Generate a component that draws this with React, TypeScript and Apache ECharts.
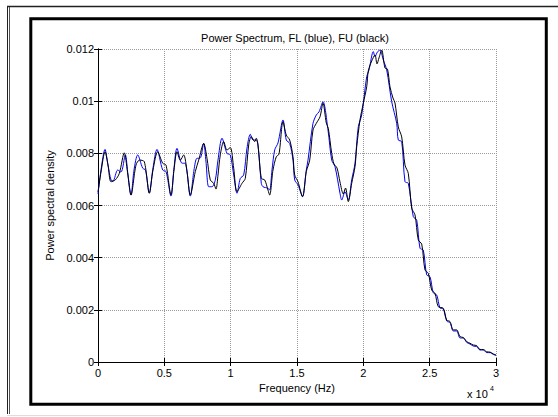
import React, { useEffect, useRef } from "react";
import * as echarts from "echarts";

// Frequency (Hz) and power spectral density, FU (black)
const freqFU = [0, 226, 528, 754, 980, 1304, 1606, 1982, 2224, 2487, 2864, 3128, 3490, 3867, 4146, 4500, 4877, 5126, 5502, 5729, 5955, 6204, 6460, 6709, 6957, 7334, 7590, 7967, 8216, 8465, 8721, 8894, 9045, 9218, 9475, 9724, 9972, 10229, 10477, 10854, 11103, 11359, 11555, 11812, 11932, 12060, 12309, 12565, 12814, 12942, 13191, 13440, 13643, 13945, 14193, 14450, 14699, 14827, 15075, 15415, 15701, 15958, 16206, 16455, 16734, 16960, 17209, 17359, 17616, 17789, 18015, 18241, 18490, 18656, 18867, 19123, 19372, 19500, 19749, 19998, 20254, 20375, 20631, 20880, 21030, 21181, 21384, 21633, 21822, 22010, 22236, 22387, 22636, 22892, 23141, 23390, 23646, 23895, 24143, 24400, 24648, 24897, 25153, 25402, 25651, 26028, 26284, 26533, 26782, 27038, 27287, 27535, 27792, 28040, 28289, 28545, 28794, 29043, 29299, 29548, 29797, 30000];
const psdFU = [0.00652, 0.00728, 0.00806, 0.00755, 0.00691, 0.00698, 0.00723, 0.00802, 0.00728, 0.0064, 0.00755, 0.00774, 0.00768, 0.00647, 0.00736, 0.00806, 0.00762, 0.00755, 0.0064, 0.00736, 0.00806, 0.00774, 0.00794, 0.0073, 0.0064, 0.0073, 0.00774, 0.00838, 0.00781, 0.00698, 0.00685, 0.00663, 0.00717, 0.00794, 0.00845, 0.00813, 0.00822, 0.00743, 0.00653, 0.00685, 0.00704, 0.00832, 0.00864, 0.00845, 0.00858, 0.00832, 0.00704, 0.00698, 0.00659, 0.0064, 0.00736, 0.00787, 0.00797, 0.00921, 0.0087, 0.00851, 0.00787, 0.00717, 0.00691, 0.00634, 0.0073, 0.00774, 0.00889, 0.00915, 0.0094, 0.00992, 0.00916, 0.00896, 0.008, 0.00759, 0.00744, 0.0069, 0.00644, 0.00667, 0.00615, 0.00685, 0.00749, 0.00825, 0.00928, 0.00992, 0.01055, 0.01116, 0.01154, 0.01177, 0.01143, 0.01166, 0.01196, 0.01127, 0.01123, 0.01055, 0.01012, 0.00993, 0.00901, 0.00863, 0.00755, 0.00723, 0.0059, 0.00564, 0.00468, 0.00452, 0.00353, 0.0034, 0.00276, 0.00263, 0.00212, 0.00206, 0.00161, 0.00155, 0.00123, 0.00123, 0.00097, 0.00094, 0.00078, 0.00072, 0.00065, 0.00063, 0.00048, 0.00048, 0.00039, 0.00038, 0.00031, 0.00027];

// Frequency (Hz) and power spectral density, FL (blue)
const freqFL = [0, 226, 528, 754, 980, 1131, 1485, 1734, 2058, 2261, 2487, 2714, 2992, 3369, 3580, 3867, 4146, 4447, 4877, 5126, 5502, 5729, 5955, 6332, 6558, 6957, 7236, 7462, 7688, 7967, 8141, 8344, 8593, 8842, 9045, 9347, 9724, 9972, 10229, 10477, 10726, 10982, 11231, 11480, 11683, 11932, 12098, 12309, 12437, 12814, 12942, 13116, 13319, 13568, 13945, 14193, 14450, 14699, 14827, 15075, 15415, 15701, 15829, 16206, 16455, 16658, 16960, 17337, 17616, 17865, 18241, 18369, 18618, 18867, 19123, 19372, 19621, 19877, 20254, 20428, 20752, 20880, 21068, 21256, 21505, 21761, 22138, 22515, 22636, 22892, 23141, 23390, 23767, 24023, 24271, 24520, 24777, 25025, 25274, 25530, 25779, 26028, 26284, 26533, 26782, 27038, 27287, 27535, 27792, 28040, 28289, 28545, 28794, 29043, 29299, 29548, 29797, 30000];
const psdFL = [0.00644, 0.00736, 0.00815, 0.00755, 0.00698, 0.00694, 0.00736, 0.00728, 0.00794, 0.00717, 0.0064, 0.00736, 0.00794, 0.00743, 0.00736, 0.00648, 0.00744, 0.00815, 0.00736, 0.0073, 0.00636, 0.00744, 0.00819, 0.00762, 0.00762, 0.00636, 0.00736, 0.00781, 0.00781, 0.00838, 0.00767, 0.00672, 0.00672, 0.00698, 0.00774, 0.00858, 0.008, 0.00794, 0.00717, 0.00647, 0.00704, 0.00717, 0.0082, 0.00873, 0.00851, 0.00851, 0.00813, 0.00685, 0.00672, 0.00666, 0.00659, 0.00736, 0.00813, 0.0084, 0.00928, 0.00851, 0.00838, 0.00774, 0.00698, 0.00679, 0.00634, 0.00736, 0.00774, 0.00915, 0.00947, 0.00959, 0.00998, 0.00889, 0.00774, 0.00749, 0.00647, 0.00621, 0.00653, 0.00621, 0.00698, 0.00762, 0.00902, 0.00947, 0.01094, 0.0112, 0.0119, 0.01171, 0.01189, 0.01196, 0.01158, 0.0112, 0.00998, 0.00915, 0.00851, 0.00845, 0.00691, 0.00685, 0.00557, 0.00544, 0.00436, 0.00429, 0.00334, 0.00327, 0.00265, 0.00257, 0.00207, 0.00203, 0.00157, 0.00151, 0.00119, 0.00119, 0.00092, 0.00092, 0.00075, 0.00069, 0.00061, 0.00059, 0.00046, 0.00046, 0.00036, 0.00036, 0.00029, 0.00025];

const titleText = "Power Spectrum, FL (blue), FU (black)";
const xName = "Frequency (Hz)";
const yName = "Power spectral density";

const FONT = '"Liberation Sans", Arial, Helvetica, sans-serif';

export default function App() {
  const ref = useRef<HTMLDivElement>(null);
  useEffect(() => {
    if (!ref.current) return;
    const chart = echarts.init(ref.current, null, { renderer: "svg" });
    const grid = { left: 98, top: 49, right: 62, bottom: 55 };
    const tick = { show: true, inside: true, length: 4, lineStyle: { color: "#000", width: 1 } };
    const axisLine = { show: true, lineStyle: { color: "#000", width: 1 } };
    const split = { show: true, lineStyle: { color: "#999", type: "dotted", width: 1 } };
    chart.setOption({
      animation: false,
      backgroundColor: "#fff",
      textStyle: { fontFamily: FONT },
      title: {
        text: titleText,
        left: 295,
        top: 32,
        padding: 0,
        textAlign: "center",
        textStyle: { fontSize: 11, fontWeight: "normal", color: "#000", fontFamily: FONT },
      },
      grid,
      xAxis: [
        {
          type: "value",
          min: 0,
          max: 30000,
          interval: 5000,
          axisLine,
          axisTick: tick,
          splitLine: split,
          axisLabel: {
            margin: 5,
            fontSize: 11,
            color: "#000",
            fontFamily: FONT,
            formatter: (v: number) => String(+(v / 10000).toFixed(2)),
          },
          name: xName,
          nameLocation: "middle",
          nameGap: 20,
          nameTextStyle: { fontSize: 11, color: "#000", fontFamily: FONT },
        },
        {
          type: "value",
          position: "top",
          min: 0,
          max: 30000,
          interval: 5000,
          axisLine,
          axisTick: tick,
          splitLine: { show: false },
          axisLabel: { show: false },
        },
      ],
      yAxis: [
        {
          type: "value",
          min: 0,
          max: 0.012,
          interval: 0.002,
          axisLine,
          axisTick: tick,
          splitLine: split,
          axisLabel: {
            margin: 4,
            fontSize: 11,
            color: "#000",
            fontFamily: FONT,
            formatter: (v: number) => String(+v.toFixed(4)),
          },
          name: yName,
          nameLocation: "middle",
          nameRotate: 90,
          nameGap: 40,
          nameTextStyle: { fontSize: 11, color: "#000", fontFamily: FONT },
        },
        {
          type: "value",
          position: "right",
          min: 0,
          max: 0.012,
          interval: 0.002,
          axisLine,
          axisTick: tick,
          splitLine: { show: false },
          axisLabel: { show: false },
        },
      ],
      series: [
        {
          name: "FL",
          type: "line",
          data: freqFL.map((f, i) => [f, psdFL[i]]),
          showSymbol: false,
          symbol: "none",
          smooth: 0.3,
          lineStyle: { color: "#0000ff", width: 1 },
          z: 2,
        },
        {
          name: "FU",
          type: "line",
          data: freqFU.map((f, i) => [f, psdFU[i]]),
          showSymbol: false,
          symbol: "none",
          smooth: 0.3,
          lineStyle: { color: "#000000", width: 1 },
          z: 3,
        },
      ],
      graphic: [
        { type: "line", shape: { x1: 7, y1: 6.5, x2: 558, y2: 6.5 }, style: { stroke: "#222", lineWidth: 1.5 } },
        { type: "line", shape: { x1: 7.5, y1: 6, x2: 7.5, y2: 414 }, style: { stroke: "#222", lineWidth: 1 } },
        { type: "line", shape: { x1: 9.5, y1: 7, x2: 9.5, y2: 414 }, style: { stroke: "#555", lineWidth: 1 } },
        { type: "line", shape: { x1: 7, y1: 415.5, x2: 558, y2: 415.5 }, style: { stroke: "#ddd", lineWidth: 1 } },
        {
          type: "rect",
          shape: { x: 30.8, y: 18.7, width: 515.5, height: 385.6 },
          style: { fill: "none", stroke: "#000", lineWidth: 3 },
        },
        {
          type: "text",
          x: 467,
          y: 388,
          style: { text: "x 10", font: `11px ${FONT}`, fill: "#000" },
        },
        {
          type: "text",
          x: 490,
          y: 385,
          style: { text: "4", font: `7px ${FONT}`, fill: "#000" },
        },
      ],
    });
    return () => chart.dispose();
  }, []);
  return <div ref={ref} style={{ position: "fixed", left: 0, top: 0, width: 558, height: 417 }} />;
}
